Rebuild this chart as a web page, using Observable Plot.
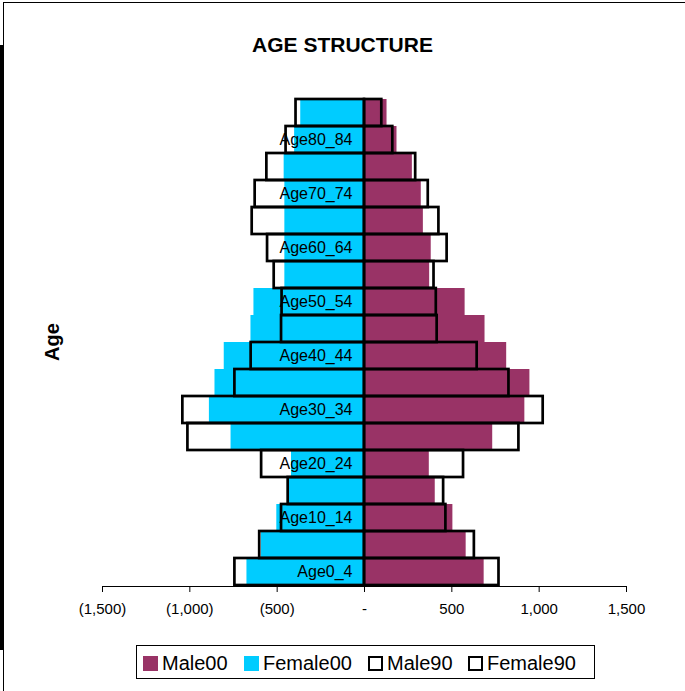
<!DOCTYPE html>
<html>
<head>
<meta charset="utf-8">
<script src="https://cdn.jsdelivr.net/npm/d3@7"></script>
<script src="https://cdn.jsdelivr.net/npm/@observablehq/plot@0.6"></script>
<style>
  html, body { margin: 0; padding: 0; background: #fff; }
  #wrap { position: relative; width: 685px; height: 691px; overflow: hidden; font-family: "Liberation Sans", Arial, sans-serif; }
  #chart { position: absolute; left: 0; top: 0; }
  #title { position: absolute; left: 0; width: 685px; top: 33px; text-align: center; font-weight: bold; font-size: 21px; line-height: 24px; }
  #ytitle { position: absolute; left: 52px; top: 342px; transform: translate(-50%, -50%) rotate(-90deg); font-weight: bold; font-size: 20px; white-space: nowrap; }
  #legend { position: absolute; left: 136px; top: 645px; width: 459px; height: 34px; border: 1px solid #000; box-sizing: border-box; }
  .item { position: absolute; top: 0; height: 34px; display: flex; align-items: center; font-size: 20px; }
  .sw { width: 15px; height: 15px; margin-right: 4px; box-sizing: border-box; }
  #frameTop { position: absolute; left: 3px; top: 2px; width: 682px; height: 0; border-top: 1px solid #000; }
  #frameLeft { position: absolute; left: 3px; top: 2px; width: 0; height: 689px; border-left: 1px solid #000; }
  #thickLeft { position: absolute; left: 0; top: 45px; width: 4px; height: 605px; background: #000; }
</style>
</head>
<body>
<div id="wrap">
  <div id="frameTop"></div>
  <div id="frameLeft"></div>
  <div id="thickLeft"></div>
  <div id="chart"></div>
  <div id="title">AGE STRUCTURE</div>
  <div id="ytitle">Age</div>
  <div id="legend"></div>
</div>
<script>
const ages = ["Age0_4","Age5_9","Age10_14","Age15_19","Age20_24","Age25_29","Age30_34","Age35_39","Age40_44","Age45_49","Age50_54","Age55_59","Age60_64","Age65_69","Age70_74","Age75_79","Age80_84","Age85+"];
const male00   = [685, 582, 506, 405, 371, 734, 918, 947, 814, 690, 576, 373, 382, 337, 325, 274, 186, 129];
const female00 = [673, 590, 502, 432, 418, 764, 888, 856, 803, 650, 633, 456, 456, 456, 456, 460, 400, 365];
const male90   = [770, 629, 466, 453, 567, 884, 1023, 827, 645, 416, 411, 398, 473, 426, 365, 293, 162, 99];
const female90 = [742, 600, 475, 437, 589, 1011, 1040, 742, 649, 475, 472, 517, 555, 643, 626, 559, 449, 392];
const labeledAges = ["Age0_4","Age10_14","Age20_24","Age30_34","Age40_44","Age50_54","Age60_64","Age70_74","Age80_84"];
const xTicks = [-1500, -1000, -500, 0, 500, 1000, 1500];

const series = [
  {name: "Male00", color: "#993366", outline: false},
  {name: "Female00", color: "#00CCFF", outline: false},
  {name: "Male90", color: "none", outline: true},
  {name: "Female90", color: "none", outline: true}
];

const rows = ages.map((a, i) => ({age: a, m00: male00[i], f00: female00[i], m90: male90[i], f90: female90[i]}));

const fmt = d => {
  if (d === 0) return "-";
  const s = d3.format(",")(Math.abs(d));
  return d < 0 ? "(" + s + ")" : s;
};

const chart = Plot.plot({
  width: 685,
  height: 620,
  marginTop: 98,
  marginBottom: 34,
  marginLeft: 102,
  marginRight: 59,
  style: {fontFamily: "'Liberation Sans', Arial, sans-serif", fontSize: "15px", color: "#000", background: "transparent"},
  x: {domain: [-1500, 1500]},
  y: {domain: ages.slice().reverse(), padding: 0, axis: null},
  marks: [
    Plot.barX(rows, {y: "age", x1: 0, x2: d => -d.f00, fill: "#00CCFF", inset: 0}),
    Plot.barX(rows, {y: "age", x1: 0, x2: d => d.m00, fill: "#993366", inset: 0}),
    Plot.barX(rows, {y: "age", x1: 0, x2: d => d.m90, fill: "none", stroke: "#000", strokeWidth: 2.7, inset: 0}),
    Plot.barX(rows, {y: "age", x1: 0, x2: d => -d.f90, fill: "none", stroke: "#000", strokeWidth: 2.7, inset: 0}),
    Plot.text(labeledAges, {x: 0, y: d => d, text: d => d, dx: -12, textAnchor: "end", fontSize: 16, fill: "#000"}),
    Plot.frame({anchor: "bottom", stroke: "#000", strokeOpacity: 1}),
    Plot.axisX({ticks: xTicks, tickFormat: fmt, tickSize: 6, tickPadding: 11, label: null, fontSize: 15, stroke: "#000"})
  ]
});
document.getElementById("chart").appendChild(chart);

const legend = document.getElementById("legend");
const lefts = [6, 107, 231, 331];
series.forEach((s, i) => {
  const it = document.createElement("div");
  it.className = "item";
  it.style.left = lefts[i] + "px";
  const sw = document.createElement("div");
  sw.className = "sw";
  if (s.outline) { sw.style.border = "2.5px solid #000"; sw.style.background = "#fff"; }
  else { sw.style.background = s.color; }
  const tx = document.createElement("span");
  tx.textContent = s.name;
  it.appendChild(sw); it.appendChild(tx);
  legend.appendChild(it);
});
</script>
</body>
</html>
